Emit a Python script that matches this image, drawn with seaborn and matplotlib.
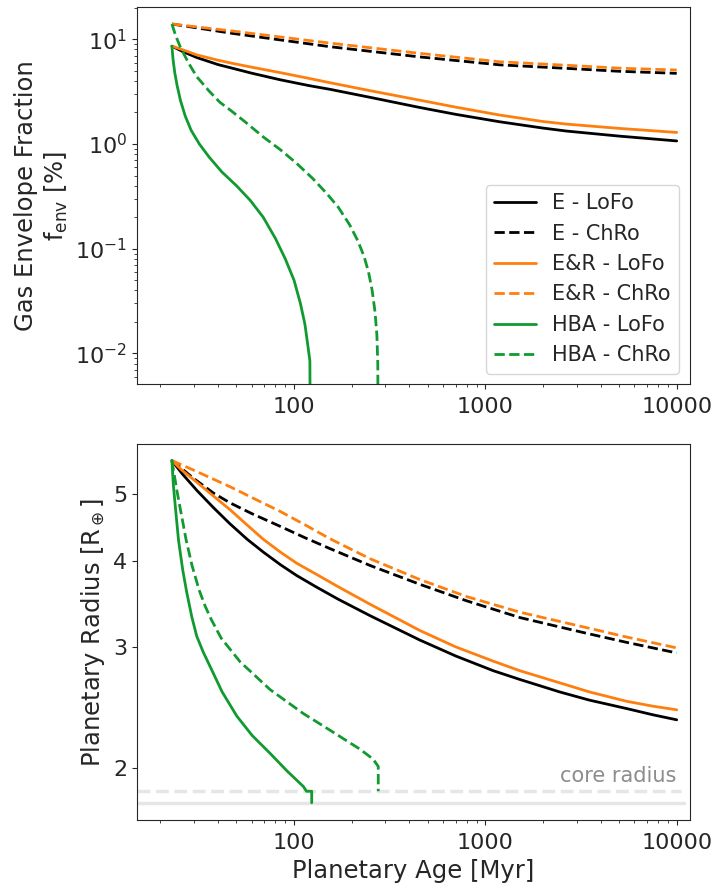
import numpy as np
import pandas as pd
import seaborn as sns
import matplotlib.pyplot as plt
from matplotlib.ticker import FixedLocator, FuncFormatter, LogLocator, NullFormatter, NullLocator

sns.set_style("ticks")
plt.rcParams["font.family"] = ["DejaVu Sans"]
plt.rcParams["font.size"] = 16

# ---- envelope fraction (top panel), ages in Myr, f_env in %
lofo_age = [23, 26, 31, 40, 47.5, 60, 85, 120, 154, 250, 450, 700, 1190, 2000, 2650, 5000, 10000]
e_lofo_f = [8.6, 7.69, 6.7, 5.74, 5.3, 4.75, 4.1, 3.61, 3.33, 2.79, 2.24, 1.92, 1.63, 1.42, 1.33, 1.19, 1.07]
er_lofo_f = [8.6, 7.98, 7.1, 6.32, 5.9, 5.42, 4.8, 4.23, 3.85, 3.23, 2.63, 2.25, 1.89, 1.64, 1.55, 1.41, 1.29]
chro_age = [23, 47.5, 154, 450, 1190, 2650, 5000, 10000]
e_chro_f = [14.0, 11.4, 8.5, 6.8, 5.7, 5.28, 4.95, 4.73]
er_chro_f = [14.0, 12.0, 9.2, 7.35, 6.1, 5.65, 5.3, 5.09]
hba_lofo_age = [23, 23.3, 23.8, 24.5, 25.5, 27, 29, 32, 36, 42, 50, 59, 69, 80, 90, 100, 108, 114, 118, 121, 122.5]
hba_lofo_f = [8.6, 6.5, 4.8, 3.6, 2.6, 1.85, 1.35, 1.0, 0.75, 0.54, 0.40, 0.29, 0.20, 0.125, 0.08,
              0.05, 0.030, 0.019, 0.012, 0.0085, 1e-4]
hba_chro_age = [23, 24, 25.4, 28, 31, 36, 41, 46.4, 55, 69, 85, 103, 125, 148, 170, 195, 215, 232,
                245, 256, 265, 271, 274, 276.5]
hba_chro_f = [14.0, 11.0, 8.5, 6.0, 4.4, 3.2, 2.5, 2.11, 1.65, 1.17, 0.88, 0.655, 0.47, 0.338, 0.25,
              0.17, 0.12, 0.085, 0.06, 0.04, 0.025, 0.015, 0.008, 1e-4]

# ---- planetary radius (bottom panel), R_earth
lofo_rage = [23, 26, 31, 38, 46.3, 57, 69.2, 85, 103.3, 130, 170, 250, 454, 700, 1100, 1514, 2445,
             3500, 5483, 7500, 10000]
e_lofo_r = [5.6, 5.36, 5.07, 4.78, 4.53, 4.30, 4.12, 3.95, 3.81, 3.67, 3.52, 3.33, 3.07, 2.91, 2.77,
            2.69, 2.58, 2.51, 2.44, 2.39, 2.35]
er_lofo_r = [5.6, 5.42, 5.21, 4.97, 4.75, 4.51, 4.30, 4.12, 3.97, 3.83, 3.67, 3.46, 3.17, 3.00, 2.86,
             2.77, 2.66, 2.58, 2.50, 2.46, 2.43]
chro_rage = [23, 30, 38, 46.3, 60, 85, 115, 154, 250, 454, 800, 1514, 2300, 3378, 5500, 10000]
e_chro_r = [5.6, 5.27, 5.02, 4.86, 4.69, 4.49, 4.32, 4.17, 3.94, 3.70, 3.50, 3.31, 3.22, 3.14, 3.045, 2.94]
er_chro_r = [5.6, 5.42, 5.26, 5.13, 4.95, 4.72, 4.51, 4.31, 4.03, 3.76, 3.55, 3.37, 3.28, 3.20, 3.10, 2.99]
hba_lofo_rage = [23, 23.4, 24.05, 24.9, 26.2, 27.5, 29.2, 31.0, 33.5, 36.4, 42.1, 50.2, 60.4, 75,
                 91.9, 111.8, 116.2, 123.7, 123.7]
hba_lofo_r = [5.6, 5.16, 4.75, 4.29, 3.88, 3.60, 3.32, 3.11, 2.95, 2.81, 2.58, 2.38, 2.23, 2.10,
              1.98, 1.88, 1.85, 1.85, 1.78]
hba_chro_rage = [23, 24.4, 27.3, 29.3, 31.9, 34.3, 36.9, 41.6, 52.2, 75, 111.8, 154, 221, 259, 275.5, 275.5]
hba_chro_r = [5.6, 5.07, 4.29, 3.94, 3.63, 3.44, 3.29, 3.09, 2.855, 2.60, 2.40, 2.27, 2.13, 2.06, 2.01, 1.85]

core_lofo = 1.78
core_chro = 1.85

labels = ["E - LoFo", "E - ChRo", "E&R - LoFo", "E&R - ChRo", "HBA - LoFo", "HBA - ChRo"]
green = "#109a30"
colors = ["black", "black", "tab:orange", "tab:orange", green, green]
styles = ["-", "--", "-", "--", "-", "--"]

top_data = [(lofo_age, e_lofo_f), (chro_age, e_chro_f), (lofo_age, er_lofo_f),
            (chro_age, er_chro_f), (hba_lofo_age, hba_lofo_f), (hba_chro_age, hba_chro_f)]
bot_data = [(lofo_rage, e_lofo_r), (chro_rage, e_chro_r), (lofo_rage, er_lofo_r),
            (chro_rage, er_chro_r), (hba_lofo_rage, hba_lofo_r), (hba_chro_rage, hba_chro_r)]

fig = plt.figure(figsize=(7.17, 8.89), dpi=100)
ax1 = fig.add_axes([0.191, 0.568, 0.771, 0.424])
ax2 = fig.add_axes([0.191, 0.0776, 0.771, 0.423])

for (x, y), lab, c, ls in zip(top_data, labels, colors, styles):
    df = pd.DataFrame({"age": x, "val": y})
    sns.lineplot(data=df, x="age", y="val", color=c, linestyle=ls, lw=2,
                 label=lab, estimator=None, sort=False, ax=ax1)

for (x, y), lab, c, ls in zip(bot_data, labels, colors, styles):
    df = pd.DataFrame({"age": x, "val": y})
    sns.lineplot(data=df, x="age", y="val", color=c, linestyle=ls, lw=2,
                 estimator=None, sort=False, legend=False, ax=ax2)

# core radius reference lines
ax2.axhline(core_lofo, xmax=0.99, color="0.9", lw=2.5, zorder=0)
ax2.axhline(core_chro, xmax=0.985, color="0.9", lw=2.5, ls="--", zorder=0)
ax2.text(10000, 1.885, "core radius", ha="right", va="bottom", color="0.55", fontsize=15)

for ax in (ax1, ax2):
    ax.set_xscale("log")
    ax.set_xlim(15.1, 11700)
    ax.xaxis.set_major_locator(FixedLocator([100, 1000, 10000]))
    ax.xaxis.set_major_formatter(FuncFormatter(lambda v, p: "%d" % v))
    ax.xaxis.set_minor_locator(LogLocator(base=10, subs=np.arange(2, 10)))
    ax.xaxis.set_minor_formatter(NullFormatter())
    ax.tick_params(labelsize=16)
    ax.tick_params(axis="x", which="major", pad=5.5)

ax1.set_yscale("log")
ax1.set_ylim(0.0051, 20.3)
ax1.set_xlabel("")
ax1.set_ylabel("Gas Envelope Fraction\nf$_\\mathrm{env}$ [%]", fontsize=17.5)
ax1.legend(loc="lower right", fontsize=15)

ax2.set_yscale("log")
ax2.set_ylim(1.68, 5.92)
ax2.yaxis.set_major_locator(FixedLocator([2, 3, 4, 5]))
ax2.yaxis.set_major_formatter(FuncFormatter(lambda v, p: "%d" % v))
ax2.yaxis.set_minor_locator(NullLocator())
ax2.set_xlabel("Planetary Age [Myr]", fontsize=17.5, labelpad=5)
ax2.set_ylabel("Planetary Radius [R$_\\oplus$]", fontsize=17.5)

fig.savefig("out.png", dpi=100)
